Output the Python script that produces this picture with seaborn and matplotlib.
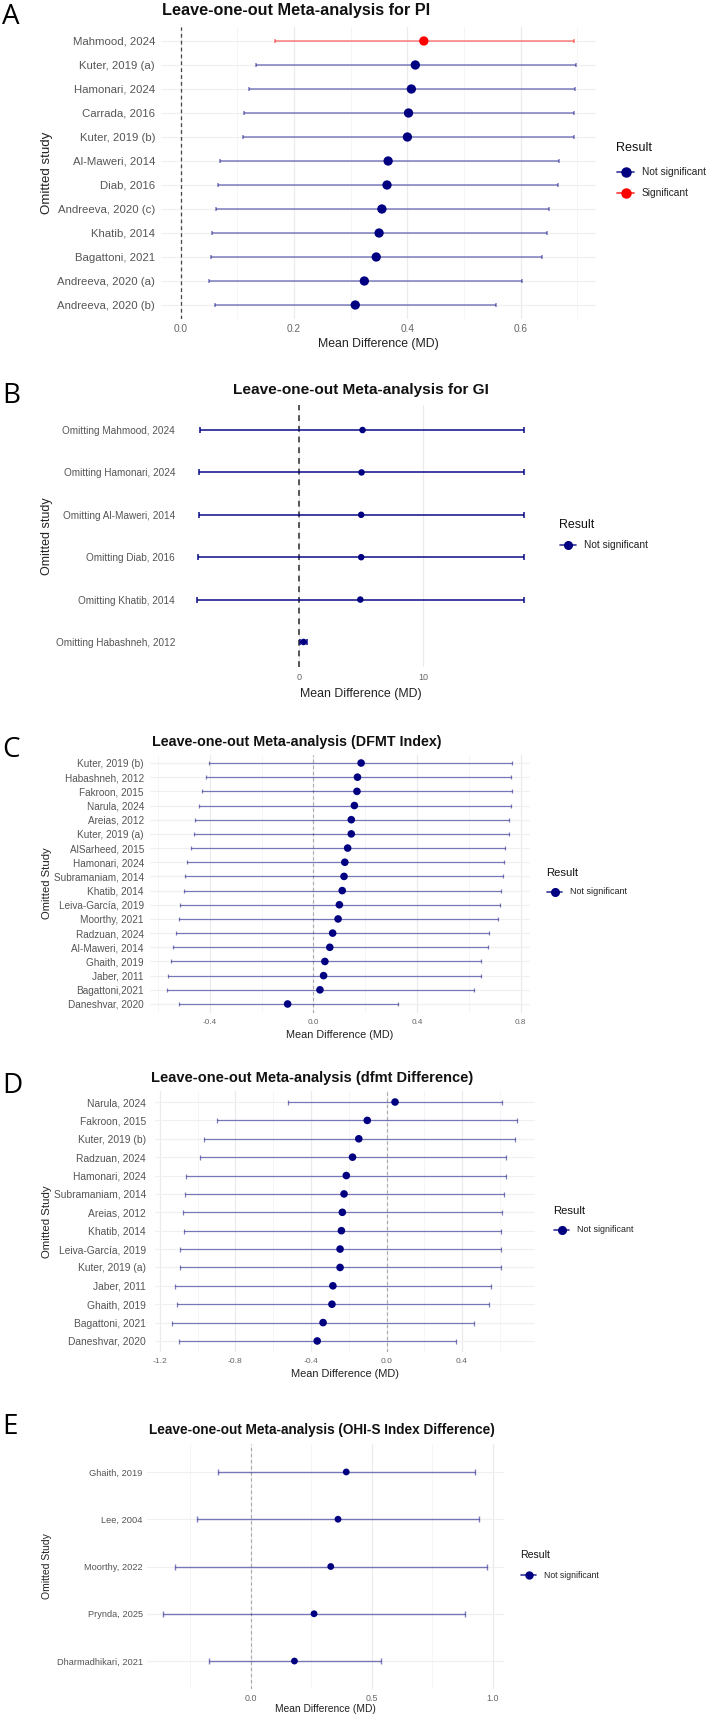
import numpy as np
import pandas as pd
import matplotlib
matplotlib.use("Agg")
import matplotlib.pyplot as plt
from matplotlib.lines import Line2D
from matplotlib.ticker import FormatStrFormatter
import seaborn as sns

sns.set_theme(style="white")
plt.rcParams['font.family'] = ['Liberation Sans', 'DejaVu Sans']
plt.rcParams['axes.unicode_minus'] = False

# ---------------- data ----------------
# A: Plaque index
studies_pi = ["Mahmood, 2024", "Kuter, 2019 (a)", "Hamonari, 2024", "Carrada, 2016",
              "Kuter, 2019 (b)", "Al-Maweri, 2014", "Diab, 2016", "Andreeva, 2020 (c)",
              "Khatib, 2014", "Bagattoni, 2021", "Andreeva, 2020 (a)", "Andreeva, 2020 (b)"]
md_pi = [0.429, 0.414, 0.407, 0.402, 0.400, 0.366, 0.364, 0.355, 0.350, 0.345, 0.324, 0.308]
lo_pi = [0.166, 0.132, 0.121, 0.111, 0.109, 0.069, 0.066, 0.062, 0.055, 0.054, 0.050, 0.061]
hi_pi = [0.694, 0.698, 0.696, 0.694, 0.694, 0.668, 0.666, 0.650, 0.646, 0.638, 0.602, 0.557]
res_pi = ["Significant"] + ["Not significant"] * 11
ticks_pi = [0.0, 0.2, 0.4, 0.6]

# B: Gingival index
studies_gi = ["Omitting Mahmood, 2024", "Omitting Hamonari, 2024", "Omitting Al-Maweri, 2014",
              "Omitting Diab, 2016", "Omitting Khatib, 2014", "Omitting Habashneh, 2012"]
md_gi = [5.13, 5.05, 5.02, 5.02, 4.95, 0.37]
lo_gi = [-7.99, -8.10, -8.10, -8.17, -8.20, 0.10]
hi_gi = [18.13, 18.13, 18.13, 18.13, 18.13, 0.64]
res_gi = ["Not significant"] * 6
ticks_gi = [0, 10]

# C: DFMT index
studies_dfmt = ["Kuter, 2019 (b)", "Habashneh, 2012", "Fakroon, 2015", "Narula, 2024",
                "Areias, 2012", "Kuter, 2019 (a)", "AlSarheed, 2015", "Hamonari, 2024",
                "Subramaniam, 2014", "Khatib, 2014", "Leiva-García, 2019", "Moorthy, 2021",
                "Radzuan, 2024", "Al-Maweri, 2014", "Ghaith, 2019", "Jaber, 2011",
                "Bagattoni,2021", "Daneshvar, 2020"]
md_dfmt = [0.184, 0.170, 0.168, 0.158, 0.146, 0.146, 0.132, 0.121, 0.118, 0.111, 0.100,
           0.095, 0.074, 0.063, 0.044, 0.039, 0.025, -0.100]
lo_dfmt = [-0.402, -0.414, -0.430, -0.444, -0.458, -0.461, -0.475, -0.489, -0.496, -0.502,
           -0.514, -0.521, -0.532, -0.544, -0.551, -0.561, -0.567, -0.518]
hi_dfmt = [0.768, 0.763, 0.768, 0.765, 0.754, 0.756, 0.742, 0.735, 0.733, 0.725, 0.719,
           0.712, 0.679, 0.675, 0.646, 0.646, 0.621, 0.325]
res_dfmt = ["Not significant"] * 18
ticks_dfmt = [-0.4, 0.0, 0.4, 0.8]

# D: dfmt difference
studies_dd = ["Narula, 2024", "Fakroon, 2015", "Kuter, 2019 (b)", "Radzuan, 2024",
              "Hamonari, 2024", "Subramaniam, 2014", "Areias, 2012", "Khatib, 2014",
              "Leiva-García, 2019", "Kuter, 2019 (a)", "Jaber, 2011", "Ghaith, 2019",
              "Bagattoni, 2021", "Daneshvar, 2020"]
md_dd = [0.045, -0.102, -0.147, -0.180, -0.213, -0.225, -0.234, -0.239, -0.246, -0.246,
         -0.284, -0.289, -0.336, -0.367]
lo_dd = [-0.521, -0.895, -0.968, -0.989, -1.060, -1.067, -1.077, -1.072, -1.091, -1.091,
         -1.122, -1.112, -1.136, -1.098]
hi_dd = [0.611, 0.693, 0.682, 0.634, 0.634, 0.620, 0.613, 0.606, 0.606, 0.606, 0.554,
         0.542, 0.464, 0.369]
res_dd = ["Not significant"] * 14
ticks_dd = [-1.2, -0.8, -0.4, 0.0, 0.4]

# E: OHI-S index difference
studies_ohi = ["Ghaith, 2019", "Lee, 2004", "Moorthy, 2022", "Prynda, 2025", "Dharmadhikari, 2021"]
md_ohi = [0.394, 0.360, 0.330, 0.261, 0.180]
lo_ohi = [-0.135, -0.223, -0.313, -0.362, -0.171]
hi_ohi = [0.925, 0.944, 0.977, 0.886, 0.538]
res_ohi = ["Not significant"] * 5
ticks_ohi = [0.0, 0.5, 1.0]

palette = {"Not significant": "navy", "Significant": "red"}

# ---------------- layout helpers (pixels) ----------------
W, H = 710, 1721
fig = plt.figure(figsize=(W / 100, H / 100), dpi=100)


def fx(x):
    return x / W


def fy(y):
    return 1 - y / H


def panel(studies, md, lo, hi, res, ticks, minor, fmt, lay):
    l, t, r, b = lay["rect"]
    ax = fig.add_axes([l / W, 1 - b / H, (r - l) / W, (b - t) / H])
    df = pd.DataFrame({"study": studies, "md": md, "lo": lo, "hi": hi, "result": res})
    n = len(df)
    df["pos"] = np.arange(n)[::-1]

    xmin = min(df["lo"].min(), 0)
    xmax = max(df["hi"].max(), 0)
    pad = 0.05 * (xmax - xmin)
    ax.set_xlim(xmin - pad, xmax + pad)
    ax.set_ylim(-0.6, n - 0.4)

    ax.set_xticks(ticks)
    ax.set_xticks(minor, minor=True)
    ax.xaxis.set_major_formatter(FormatStrFormatter(fmt))
    ax.set_yticks(df["pos"])
    ax.set_yticklabels(df["study"])
    ax.grid(which="major", axis="x", color="#ebebeb", lw=0.9, zorder=0)
    ax.grid(which="minor", axis="x", color="#f4f4f4", lw=0.6, zorder=0)
    if lay["hgrid"]:
        ax.grid(which="major", axis="y", color="#f0f0f0", lw=0.9, zorder=0)
    ax.set_axisbelow(True)

    ax.axvline(0, color=lay["vcol"], lw=lay["vlw"], ls=(0, (3, 2.5)), zorder=1)

    for key, g in df.groupby("result"):
        ax.errorbar(g["md"], g["pos"], xerr=[g["md"] - g["lo"], g["hi"] - g["md"]],
                    fmt="none", ecolor=palette[key], alpha=lay["ealpha"],
                    elinewidth=lay["elw"], capsize=lay["cap"], capthick=lay["elw"], zorder=2)
    sns.scatterplot(data=df, x="md", y="pos", hue="result", palette=palette,
                    s=lay["ps"], edgecolor="none", legend=False, ax=ax, zorder=3)

    for sp in ax.spines.values():
        sp.set_visible(False)
    ax.tick_params(axis="y", length=0, labelsize=lay["ysize"], labelcolor="#555555", pad=lay["ypad"])
    ax.tick_params(axis="x", which="both", length=0, labelsize=lay["xsize"], labelcolor="#666666",
                   pad=lay["xpad"])

    ax.set_xlabel("Mean Difference (MD)", fontsize=lay["xlsize"], color="#222222")
    ax.xaxis.label.set_va("center")
    ax.xaxis.set_label_coords(0.5, -(lay["xly"] - b) / (b - t))
    ax.set_ylabel(lay["ylabel"], fontsize=lay["ylsize"], color="#222222")
    ax.yaxis.label.set_va("center")
    ax.yaxis.set_label_coords((47 - l) / (r - l), 0.5)

    fig.text(fx(lay["title_x"]), fy(lay["title_y"]), lay["title"], ha="center", va="center",
             fontsize=lay["tsize"], fontweight="bold", color="#111111")
    fig.text(fx(2), fy(lay["letter_y"]), lay["letter"], ha="left", va="center",
             fontsize=20, color="black", family=["Open Sans", "DejaVu Sans"])

    # legend (manual, ggplot-like)
    lx, ly = lay["leg"]
    fig.text(fx(lx), fy(ly), "Result", ha="left", va="center", fontsize=lay["lts"], color="#111111")
    keys = [k for k in ["Not significant", "Significant"] if k in set(res)]
    for i, k in enumerate(keys):
        yy = ly + lay["leg_first"] + i * lay["leg_step"]
        kw = lay["key_w"]
        fig.add_artist(Line2D([fx(lx + 1), fx(lx + 1 + kw)], [fy(yy), fy(yy)], color=palette[k],
                              lw=1.2, alpha=0.8, transform=fig.transFigure))
        fig.add_artist(Line2D([fx(lx + 1 + kw / 2)], [fy(yy)], marker="o", ms=lay["lms"],
                              color=palette[k], ls="none", transform=fig.transFigure))
        fig.text(fx(lx + kw + 9), fy(yy), k, ha="left", va="center", fontsize=lay["lls"],
                 color="#222222")
    return ax


lay_a = dict(rect=(161, 26.6, 596, 319.4), hgrid=True, vcol="#444444", vlw=0.9, ealpha=0.5,
             elw=1.1, cap=1.5, ps=45, ysize=8.2, ypad=4.3, xsize=7.3, xpad=3.3, xlsize=8.85,
             xly=344, ylabel="Omitted study", ylsize=9.6, title="Leave-one-out Meta-analysis for PI",
             title_x=296, title_y=11, tsize=11.7, letter="A", letter_y=17, leg=(616, 148),
             leg_first=24, leg_step=21, key_w=17, lms=6.5, lts=9.1, lls=7.3)
lay_b = dict(rect=(181, 404.6, 540, 667.4), hgrid=False, vcol="#555555", vlw=1.4, ealpha=0.75,
             elw=1.4, cap=2.5, ps=22, ysize=7.2, ypad=4.3, xsize=6.5, xpad=4.0, xlsize=8.9,
             xly=694, ylabel="Omitted study", ylsize=9.0, title="Leave-one-out Meta-analysis for GI",
             title_x=361, title_y=390, tsize=11.1, letter="B", letter_y=396, leg=(559, 525),
             leg_first=20, leg_step=21, key_w=16, lms=5.5, lts=8.9, lls=7.3)
lay_c = dict(rect=(149.5, 754.5, 529.5, 1012.5), hgrid=True, vcol="#aaaaaa", vlw=0.8, ealpha=0.5,
             elw=0.9, cap=1.4, ps=30, ysize=7.2, ypad=4.0, xsize=5.9, xpad=4.7, xlsize=7.8,
             xly=1035, ylabel="Omitted Study", ylsize=8.1,
             title="Leave-one-out Meta-analysis (DFMT Index)",
             title_x=296.5, title_y=742, tsize=10.3, letter="C", letter_y=750, leg=(546, 873),
             leg_first=19, leg_step=21, key_w=15, lms=5.5, lts=8.1, lls=6.5)
lay_d = dict(rect=(154.7, 1091, 534.7, 1352), hgrid=True, vcol="#aaaaaa", vlw=0.8, ealpha=0.5,
             elw=0.9, cap=1.8, ps=30, ysize=7.35, ypad=6.2, xsize=6.1, xpad=4.3, xlsize=7.9,
             xly=1374, ylabel="Omitted Study", ylsize=8.2,
             title="Leave-one-out Meta-analysis (dfmt Difference)",
             title_x=312, title_y=1078, tsize=10.5, letter="D", letter_y=1086, leg=(553, 1211),
             leg_first=19, leg_step=21, key_w=15, lms=5.5, lts=8.1, lls=6.4)
lay_e = dict(rect=(147, 1443.6, 503.6, 1689.4), hgrid=True, vcol="#aaaaaa", vlw=0.8, ealpha=0.5,
             elw=1.0, cap=2.5, ps=24, ysize=6.7, ypad=3.0, xsize=6.4, xpad=3.2, xlsize=7.4,
             xly=1709, ylabel="Omitted Study", ylsize=7.5,
             title="Leave-one-out Meta-analysis (OHI-S Index Difference)",
             title_x=322, title_y=1430, tsize=9.8, letter="E", letter_y=1427, leg=(520, 1555),
             leg_first=20, leg_step=21, key_w=15, lms=5.0, lts=7.6, lls=6.2)

panel(studies_pi, md_pi, lo_pi, hi_pi, res_pi, ticks_pi, np.arange(0.1, 0.8, 0.2), "%.1f", lay_a)
panel(studies_gi, md_gi, lo_gi, hi_gi, res_gi, ticks_gi, [], "%d", lay_b)
panel(studies_dfmt, md_dfmt, lo_dfmt, hi_dfmt, res_dfmt, ticks_dfmt, [-0.6, -0.2, 0.2, 0.6], "%.1f", lay_c)
panel(studies_dd, md_dd, lo_dd, hi_dd, res_dd, ticks_dd, [-1.0, -0.6, -0.2, 0.2, 0.6], "%.1f", lay_d)
panel(studies_ohi, md_ohi, lo_ohi, hi_ohi, res_ohi, ticks_ohi, [-0.25, 0.25, 0.75], "%.1f", lay_e)

fig.savefig("out.png", dpi=100, facecolor="white")
